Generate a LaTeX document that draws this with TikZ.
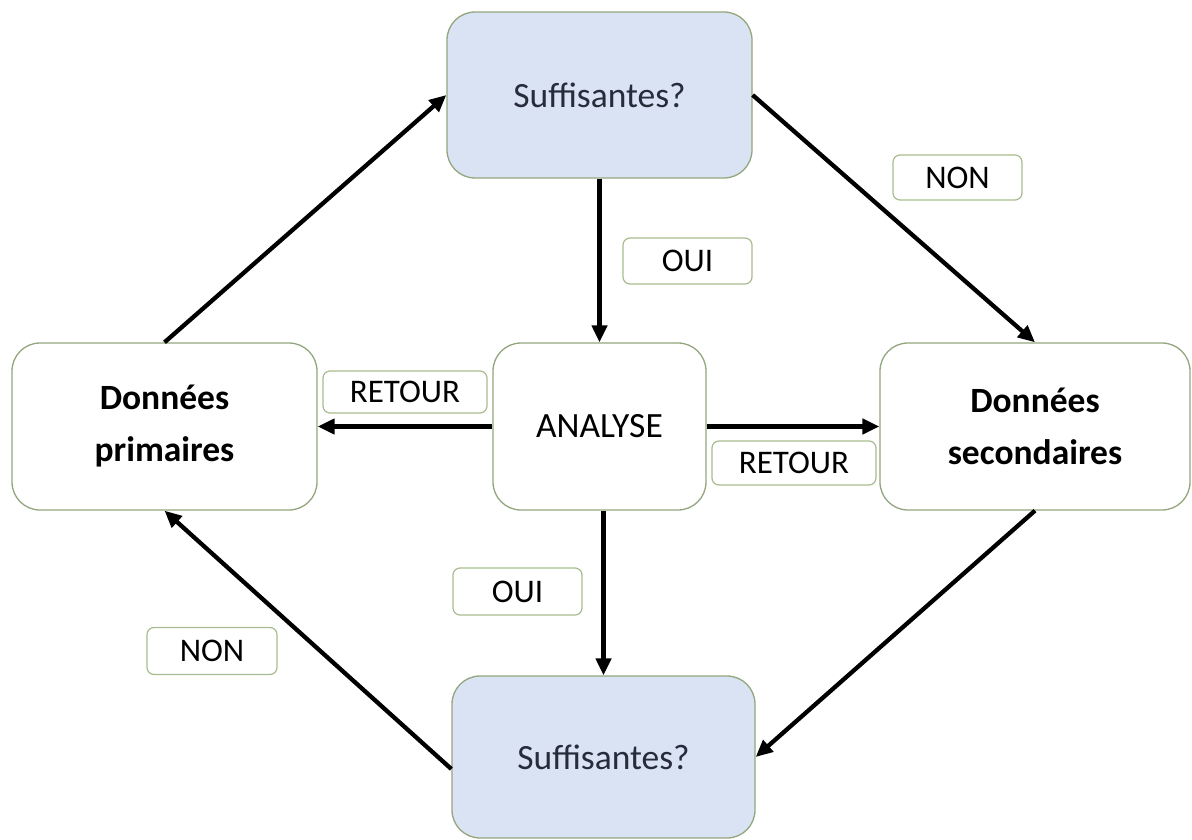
\documentclass[tikz,border=0pt]{standalone}
\usepackage{fontspec}
\setmainfont{Carlito}
\usepackage{tikz}
\usetikzlibrary{arrows.meta}
\definecolor{boxline}{HTML}{93A67E}
\definecolor{tagline}{HTML}{A7BC8E}
\definecolor{askfill}{HTML}{DAE3F3}
\definecolor{asktext}{HTML}{262C3A}
\tikzset{
 box/.style={draw=boxline, line width=1.3pt, rounded corners=28pt, fill=white,
   align=center, inner sep=0pt, font=\fontsize{35.5}{52}\selectfont},
 askbox/.style={box, fill=askfill, text=asktext},
 tagbox/.style={draw=tagline, line width=1.2pt, rounded corners=7pt, inner sep=0pt,
   font=\fontsize{33}{38}\selectfont},
 flow/.style={line width=4.3pt, -{Triangle[length=17pt,width=15pt]}}
}

\begin{document}
\begin{tikzpicture}[x=1pt,y=-1pt]
 \useasboundingbox (0,0) rectangle (1192,840);

 % main boxes
 \node[askbox, minimum width=305, minimum height=166] (askup) at (599.5,95) {Suffisantes?};
 \node[askbox, minimum width=303, minimum height=162] (askdown) at (603.5,757) {Suffisantes?};
 \node[box, minimum width=305, minimum height=167] (prim) at (164.5,426.5) {\textbf{Données}\\\textbf{primaires}};
 \node[box, minimum width=213, minimum height=167] (ana) at (599.5,426.5) {ANALYSE};
 \node[box, minimum width=310, minimum height=167] (sec) at (1035,426.5) {\textbf{Données}\\\textbf{secondaires}};

 % labels
 \node[tagbox, minimum width=129, minimum height=45] (nonup) at (957.5,177.5) {NON};
 \node[tagbox, minimum width=129, minimum height=46] (ouiup) at (687.5,261) {OUI};
 \node[tagbox, minimum width=164, minimum height=42] (retl) at (405,392) {RETOUR};
 \node[tagbox, minimum width=164, minimum height=44] (retr) at (794,463) {RETOUR};
 \node[tagbox, minimum width=129, minimum height=47] (ouidown) at (517.5,591.5) {OUI};
 \node[tagbox, minimum width=130, minimum height=47] (nondown) at (212,651) {NON};

 % arrows
 \draw[flow] (prim.north) -- (askup.west);
 \draw[flow] (askup.east) -- (sec.north);
 \draw[flow] (askup.south) -- (ana.north);
 \draw[flow] (ana.west) -- (prim.east);
 \draw[flow] (ana.east) -- (sec.west);
 \draw[flow] (ana.south -| askdown.north) -- (askdown.north);
 \draw[flow] (sec.south) -- (askdown.east);
 \draw[flow] ([yshift=-12]askdown.west) -- (prim.south);

\end{tikzpicture}
\end{document}
